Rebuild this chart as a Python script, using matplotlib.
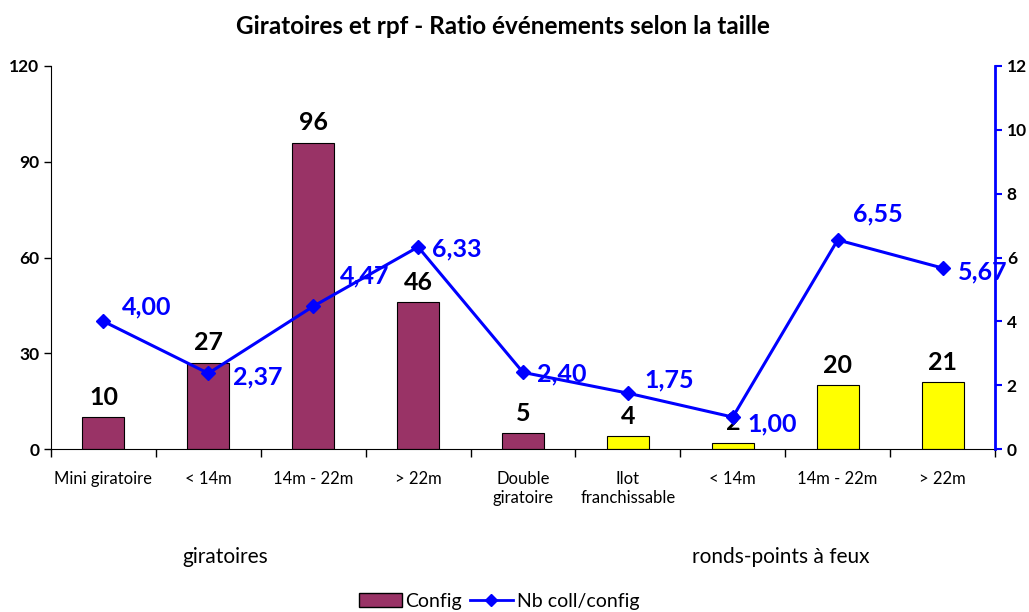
import numpy as np
import matplotlib.pyplot as plt
from matplotlib.patches import Patch
from matplotlib.lines import Line2D

plt.rcParams['font.family'] = ['Lato', 'DejaVu Sans']

# Data
categories = ["Mini giratoire", "< 14m", "14m - 22m", "> 22m", "Double\ngiratoire",
              "Ilot\nfranchissable", "< 14m", "14m - 22m", "> 22m"]
config = [10, 27, 96, 46, 5, 4, 2, 20, 21]
nb_coll = [4.00, 2.37, 4.47, 6.33, 2.40, 1.75, 1.00, 6.55, 5.67]
groups = ["giratoires", "ronds-points à feux"]
group_sizes = [5, 4]

# layout tweaks: line value label offsets (px) and group label x (category units)
lbl_dx = [18, 25, 27, 14, 14, 17, 15, 15, 15]
lbl_dy = [14, -4, 30, -2, -2, 13, -7, 26, -4]
group_x = [1.16, 6.46]

maroon = "#993366"
yellow = "#FFFF00"
blue = "#0000FF"
bar_colors = [maroon] * group_sizes[0] + [yellow] * group_sizes[1]

fig = plt.figure(figsize=(10.29, 6.12), dpi=100)
ax = fig.add_axes([51 / 1029, 1 - 449 / 612, (995 - 51) / 1029, (449 - 66) / 612])
ax2 = ax.twinx()

x = np.arange(len(categories))
ax.bar(x, config, width=0.4, color=bar_colors, edgecolor="black", linewidth=0.8, zorder=2)
for xi, v in zip(x, config):
    ax.annotate(str(v), (xi, v), xytext=(0, 6), textcoords="offset points",
                ha="center", va="bottom", fontsize=18, fontweight="bold", color="black")

ax.set_xlim(-0.5, len(categories) - 0.5)
ax.set_ylim(0, 120)
ax.set_yticks([0, 30, 60, 90, 120])
ax.set_xticks(np.arange(len(categories) + 1) - 0.5)
ax.set_xticklabels([])
ax.set_xticks(x, minor=True)
ax.set_xticklabels(categories, minor=True, fontsize=12, linespacing=1.25)
ax.tick_params(axis="x", which="major", direction="out", length=6, width=1)
ax.tick_params(axis="x", which="minor", length=0, pad=16)
ax.tick_params(axis="y", direction="out", length=5, width=1, labelsize=12.5)
for lab in ax.get_yticklabels():
    lab.set_fontweight("bold")
ax.spines["top"].set_visible(False)
ax.spines["right"].set_visible(False)

ax2.plot(x, nb_coll, color=blue, linewidth=2.2, marker="D", markersize=7, zorder=3)
for xi, v, dx, dy in zip(x, nb_coll, lbl_dx, lbl_dy):
    ax2.annotate(f"{v:.2f}".replace(".", ","), (xi, v), xytext=(dx * 0.72, dy * 0.72),
                 textcoords="offset points", ha="left", va="center",
                 fontsize=18, fontweight="bold", color=blue)
ax2.set_ylim(0, 12)
ax2.set_yticks(range(0, 13, 2))
ax2.tick_params(axis="y", direction="out", length=5, width=1.5, color=blue, labelsize=12.5)
for lab in ax2.get_yticklabels():
    lab.set_fontweight("bold")
ax2.spines["right"].set_color(blue)
ax2.spines["right"].set_linewidth(2)
ax2.spines["top"].set_visible(False)
ax2.spines["left"].set_visible(False)
ax2.spines["bottom"].set_visible(False)

fig.text(503 / 1029, 1 - 27 / 612, "Giratoires et rpf - Ratio événements selon la taille",
         ha="center", va="center", fontsize=17.5, fontweight="bold")

# group labels under the categories
for g, gx in zip(groups, group_x):
    ax.annotate(g, xy=(gx, 0), xycoords=("data", "axes fraction"),
                xytext=(0, -108 * 0.72), textcoords="offset points",
                ha="center", va="center", fontsize=15)

handles = [Patch(facecolor=maroon, edgecolor="black", label="Config"),
           Line2D([0], [0], color=blue, lw=2, marker="D", markersize=6, label="Nb coll/config")]
fig.legend(handles=handles, loc="center", bbox_to_anchor=(499 / 1029, 1 - 601 / 612), ncol=2,
           frameon=False, fontsize=14, handlelength=2.2, handletextpad=0.2, columnspacing=0.4)

fig.savefig("out.png", dpi=100)
